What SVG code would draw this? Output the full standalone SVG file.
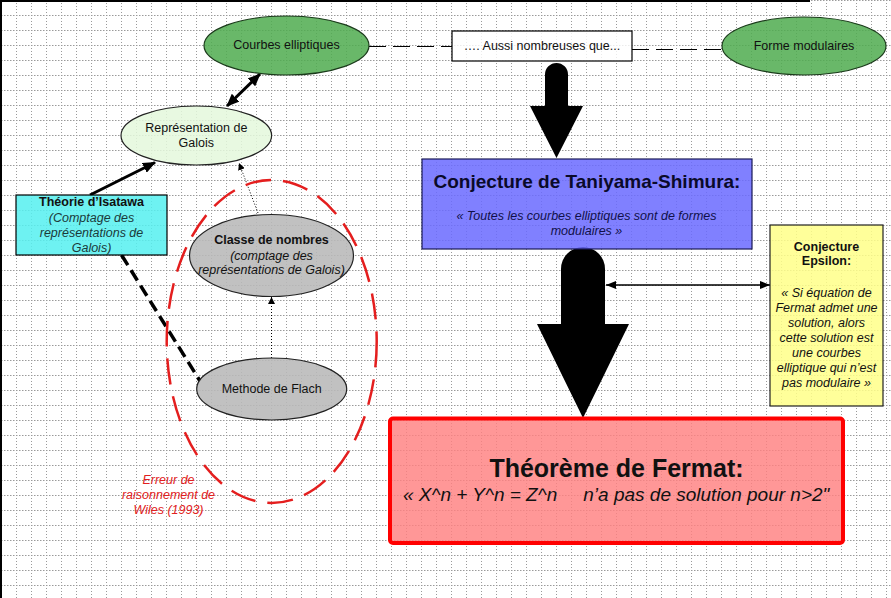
<svg xmlns="http://www.w3.org/2000/svg" width="891" height="598" viewBox="0 0 891 598">
  <style>
    text { font-family: "Liberation Sans", Arial, sans-serif; font-size: 12.5px; fill: #111; }
    .c { text-anchor: middle; }
    .b { font-weight: bold; }
    .i { font-style: italic; }
    .node { stroke-width: 1.2; }
    .conn { fill: none; stroke: #000; }
  </style>
  <defs>
    <pattern id="grid" patternUnits="userSpaceOnUse" x="1" y="0" width="15" height="15">
      <path d="M0.5,0 V15" stroke="#9a9a9a" stroke-width="1" stroke-dasharray="1 2" fill="none"/>
      <path d="M0,0.5 H15" stroke="#9a9a9a" stroke-width="1" stroke-dasharray="1.5 1.5" fill="none"/>
    </pattern>
    <marker id="ahThick" markerUnits="userSpaceOnUse" markerWidth="13" markerHeight="11" refX="12" refY="5.5" orient="auto-start-reverse">
      <path d="M0,0 L13,5.5 L0,11 z" fill="#000"/>
    </marker>
    <marker id="ahThin" markerUnits="userSpaceOnUse" markerWidth="10" markerHeight="8" refX="10" refY="4" orient="auto-start-reverse">
      <path d="M0,0 L10,4 L0,8 z" fill="#000"/>
    </marker>
    <marker id="ahSmall" markerUnits="userSpaceOnUse" markerWidth="7" markerHeight="7" refX="7" refY="3.5" orient="auto">
      <path d="M0,0 L7,3.5 L0,7 z" fill="#000"/>
    </marker>
  </defs>

  <rect width="891" height="598" fill="#ffffff"/>
  <rect width="891" height="598" fill="url(#grid)"/>
  <line x1="1" y1="0" x2="1" y2="598" stroke="#000" stroke-width="2"/>
  <line x1="0" y1="1" x2="810" y2="1" stroke="#000" stroke-width="2"/>

  <!-- connectors -->
  <g id="connectors">
    <line class="conn" x1="369" y1="46.5" x2="452" y2="46.5" stroke-width="1" stroke-dasharray="17 7"/>
    <line class="conn" x1="632" y1="49.5" x2="722" y2="49.5" stroke-width="1" stroke-dasharray="17 7"/>
    <line class="conn" x1="227" y1="106" x2="260" y2="74" stroke-width="3" marker-start="url(#ahThick)" marker-end="url(#ahThick)"/>
    <line class="conn" x1="90" y1="195" x2="155" y2="162.5" stroke-width="3" marker-end="url(#ahThick)"/>
    <line class="conn" x1="258" y1="213" x2="239" y2="163" stroke="#777" stroke-width="1" stroke-dasharray="1 2" marker-end="url(#ahSmall)"/>
    <line class="conn" x1="271.5" y1="358" x2="271.5" y2="297" stroke="#777" stroke-width="1" stroke-dasharray="1 2" marker-end="url(#ahSmall)"/>
    <line class="conn" x1="121.5" y1="255" x2="200" y2="381" stroke-width="3.5" stroke-dasharray="12 6"/>
    <line class="conn" x1="606" y1="285" x2="770" y2="285" stroke-width="1.5" marker-start="url(#ahThin)" marker-end="url(#ahThin)"/>
    <path id="bigArrow1" d="M545,106 L545,74.5 A11.5,11.5 0 0 1 568,74.5 L568,106 L583,106 L556.5,158 L530,106 Z" fill="#000"/>
    <path id="bigArrow2" d="M561,324 L561,269 A22,22 0 0 1 605,269 L605,324 L629,324 L583,418 L537,324 Z" fill="#000"/>
  </g>

  <g id="courbes">
    <ellipse class="node" cx="286.5" cy="45.5" rx="82.5" ry="29.5" fill="#4fab4f" fill-opacity="0.85" stroke="#1a3a1a"/>
    <text class="c" x="286.5" y="49">Courbes elliptiques</text>
  </g>

  <g id="aussi">
    <rect class="node" x="452" y="31" width="180" height="30" fill="#ffffff" fill-opacity="0.8" stroke="#000"/>
    <text class="c" x="542" y="49.5">…. Aussi nombreuses que...</text>
  </g>

  <g id="formes">
    <ellipse class="node" cx="804" cy="46" rx="82" ry="29" fill="#4fab4f" fill-opacity="0.85" stroke="#1a3a1a"/>
    <text class="c" x="804" y="49.5">Forme modulaires</text>
  </g>

  <g id="representation">
    <ellipse class="node" cx="196.3" cy="135.5" rx="75.3" ry="29.5" fill="#e4f8dc" fill-opacity="0.85" stroke="#222"/>
    <text class="c" x="196.3" y="132">Représentation de</text>
    <text class="c" x="196.3" y="147">Galois</text>
  </g>

  <g id="isatawa">
    <rect class="node" x="16" y="195" width="151" height="60" fill="#55f0f0" fill-opacity="0.85" stroke="#000"/>
    <text class="c b" x="91.5" y="206">Théorie d’Isatawa</text>
    <text class="c i" x="91.5" y="221.5" style="fill:#1b3a3a">(Comptage des</text>
    <text class="c i" x="91.5" y="236.5" style="fill:#1b3a3a">représentations de</text>
    <text class="c i" x="91.5" y="251.5" style="fill:#1b3a3a">Galois)</text>
  </g>

  <g id="erreur">
    <ellipse cx="271.7" cy="341.5" rx="105" ry="161.5" fill="none" stroke="#e41e1e" stroke-width="2.5" stroke-dasharray="26 12"/>
    <text class="c i" x="168.5" y="484" style="fill:#e02020">Erreur de</text>
    <text class="c i" x="168.5" y="499" style="fill:#e02020">raisonnement de</text>
    <text class="c i" x="168.5" y="514" style="fill:#e02020">Wiles (1993)</text>
  </g>

  <g id="classe">
    <ellipse class="node" cx="271.5" cy="255.5" rx="82" ry="41" fill="#b8b8b8" fill-opacity="0.88" stroke="#222"/>
    <text class="c b" x="271.5" y="243.5">Classe de nombres</text>
    <text class="c i" x="271.5" y="259.5">(comptage des</text>
    <text class="c i" x="271.5" y="274">représentations de Galois)</text>
  </g>

  <g id="flach">
    <ellipse class="node" cx="271.7" cy="389" rx="75" ry="31" fill="#b8b8b8" fill-opacity="0.88" stroke="#222"/>
    <text class="c" x="271.7" y="393">Methode de Flach</text>
  </g>

  <g id="taniyama">
    <rect class="node" x="422" y="159" width="330" height="90" fill="#6a6aff" fill-opacity="0.85" stroke="#1a1a55"/>
    <text class="c b" x="587" y="187.5" style="font-size:19px;fill:#0a0a2a">Conjecture de Taniyama-Shimura:</text>
    <text class="c i" x="586.5" y="219.5" style="fill:#10104a">« Toutes les courbes elliptiques sont de formes</text>
    <text class="c i" x="586.5" y="235" style="fill:#10104a">modulaires »</text>
  </g>

  <g id="epsilon">
    <rect class="node" x="770" y="225" width="113" height="181" fill="#ffff88" fill-opacity="0.85" stroke="#222"/>
    <text class="c b" x="826.5" y="251">Conjecture</text>
    <text class="c b" x="826.5" y="265">Epsilon:</text>
    <text class="c i" x="826.5" y="297">« Si équation de</text>
    <text class="c i" x="826.5" y="312">Fermat admet une</text>
    <text class="c i" x="826.5" y="327">solution, alors</text>
    <text class="c i" x="826.5" y="342">cette solution est</text>
    <text class="c i" x="826.5" y="357">une courbes</text>
    <text class="c i" x="826.5" y="372">elliptique qui n’est</text>
    <text class="c i" x="826.5" y="387">pas modulaire »</text>
  </g>

  <g id="fermat">
    <rect x="390" y="418.5" width="453" height="124.5" rx="3" fill="#ff8080" fill-opacity="0.82" stroke="#ff0000" stroke-width="4"/>
    <text class="c b" x="616.5" y="477" style="font-size:25px">Théorème de Fermat:</text>
    <text class="i" x="403" y="501" style="font-size:19px">« X^n + Y^n = Z^n</text>
    <text class="i" x="583.3" y="501" style="font-size:19px">n’a pas de solution pour n&gt;2"</text>
  </g>
</svg>
